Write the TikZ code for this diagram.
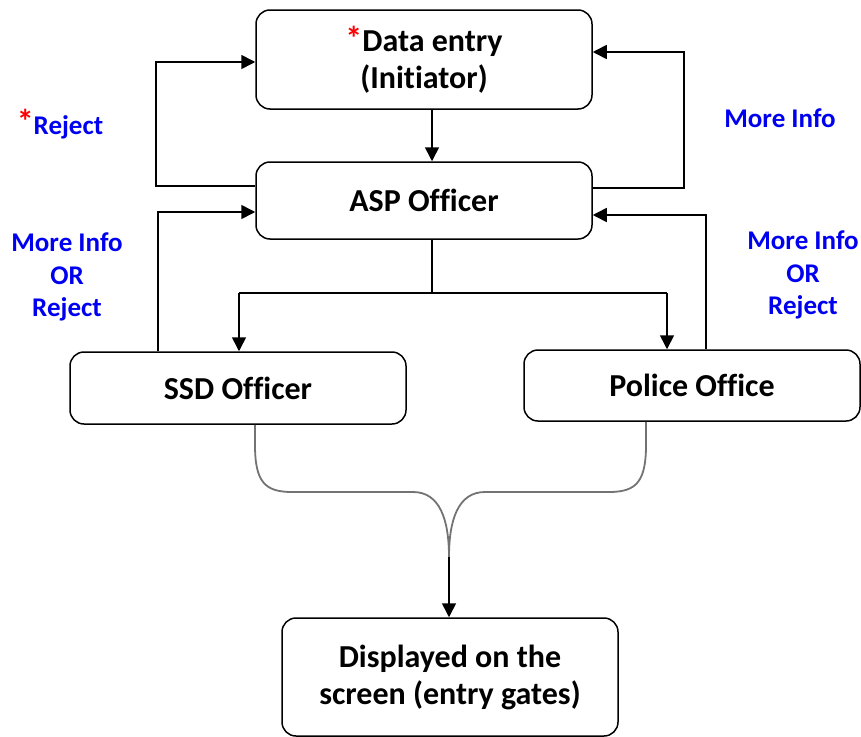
\documentclass[tikz,border=0pt]{standalone}
\usepackage{fontspec}
\setmainfont{Carlito}[Ligatures=NoCommon]
\usetikzlibrary{arrows.meta}
\definecolor{lblue}{RGB}{0,0,240}
\definecolor{lred}{RGB}{255,0,0}
\newcommand{\redstar}{{\color{lred}\raisebox{1pt}{\fontsize{34}{34}\selectfont*}}}
\begin{document}
\begin{tikzpicture}[x=1pt,y=-1pt,
  box/.style={draw, line width=1.5pt, rounded corners=14pt, align=center, inner sep=0pt,
    font=\fontsize{32}{37}\selectfont\bfseries},
  lbl/.style={text=lblue, align=center, font=\fontsize{27}{32.5}\selectfont\bfseries},
  conn/.style={line width=1.6pt},
  arr/.style={line width=1.6pt, -{Triangle[length=14pt,width=14pt]}},
  brace/.style={line width=1.8pt, draw=black!55}]
\useasboundingbox (0,0) rectangle (861,736);

\node[box, minimum width=336pt, minimum height=99pt] (de) at (424,59.5) {\redstar Data entry\\(Initiator)};
\node[box, minimum width=336pt, minimum height=77pt] (asp) at (424,200.5) {ASP Officer};
\node[box, minimum width=336pt, minimum height=72pt] (ssd) at (238,388) {SSD Officer};
\node[box, minimum width=336pt, minimum height=71pt] (pol) at (692,385.5) {Police Office};
\node[box, minimum width=336pt, minimum height=118pt] (disp) at (450,677) {Displayed on the\\screen (entry gates)};

\node[lbl] (rej) at (60,124) {\redstar Reject};
\node[lbl] (mi) at (780,118) {More Info};
\node[lbl] (lmo) at (67,277) {More Info\\OR\\Reject};
\node[lbl] (rmo) at (803,275) {More Info\\OR\\Reject};

% Data entry -> ASP
\coordinate (a1) at (432,293);
\draw[arr] (de.south -| a1) -- (asp.north -| a1);
% Reject loop
\coordinate (r1) at (156,186);
\coordinate (r2) at (156,62);
\draw[arr] (asp.west |- r1) -- (r1) -- (r2) -- (de.west |- r2);
% More info loop
\coordinate (m1) at (684,188);
\coordinate (m2) at (684,52);
\draw[arr] (asp.east |- m1) -- (m1) -- (m2) -- (de.east |- m2);
% SSD loop
\coordinate (s1) at (158,212);
\draw[arr] (ssd.north -| s1) -- (s1) -- (asp.west |- s1);
% Police loop
\coordinate (p1) at (706,215);
\draw[arr] (pol.north -| p1) -- (p1) -- (asp.east |- p1);
% ASP split
\coordinate (a2) at (239,293);
\coordinate (a3) at (667,293);
\draw[conn] (asp.south -| a1) -- (a1);
\draw[conn] (a2) -- (a3);
\draw[arr] (a2) -- (ssd.north -| a2);
\draw[arr] (a3) -- (pol.north -| a3);
% Brace
\coordinate (b0) at (449,557);
\draw[brace] (ssd.south -| 255,0) -- (255,445) .. controls (255,482) and (265,492) .. (292,492)
  -- (413,492) .. controls (440,492) and (449,520) .. (b0);
\draw[brace] (pol.south -| 646,0) -- (646,445) .. controls (646,482) and (636,492) .. (609,492)
  -- (485,492) .. controls (458,492) and (449,520) .. (b0);
\draw[arr] (b0) -- (disp.north -| b0);
\end{tikzpicture}
\end{document}
